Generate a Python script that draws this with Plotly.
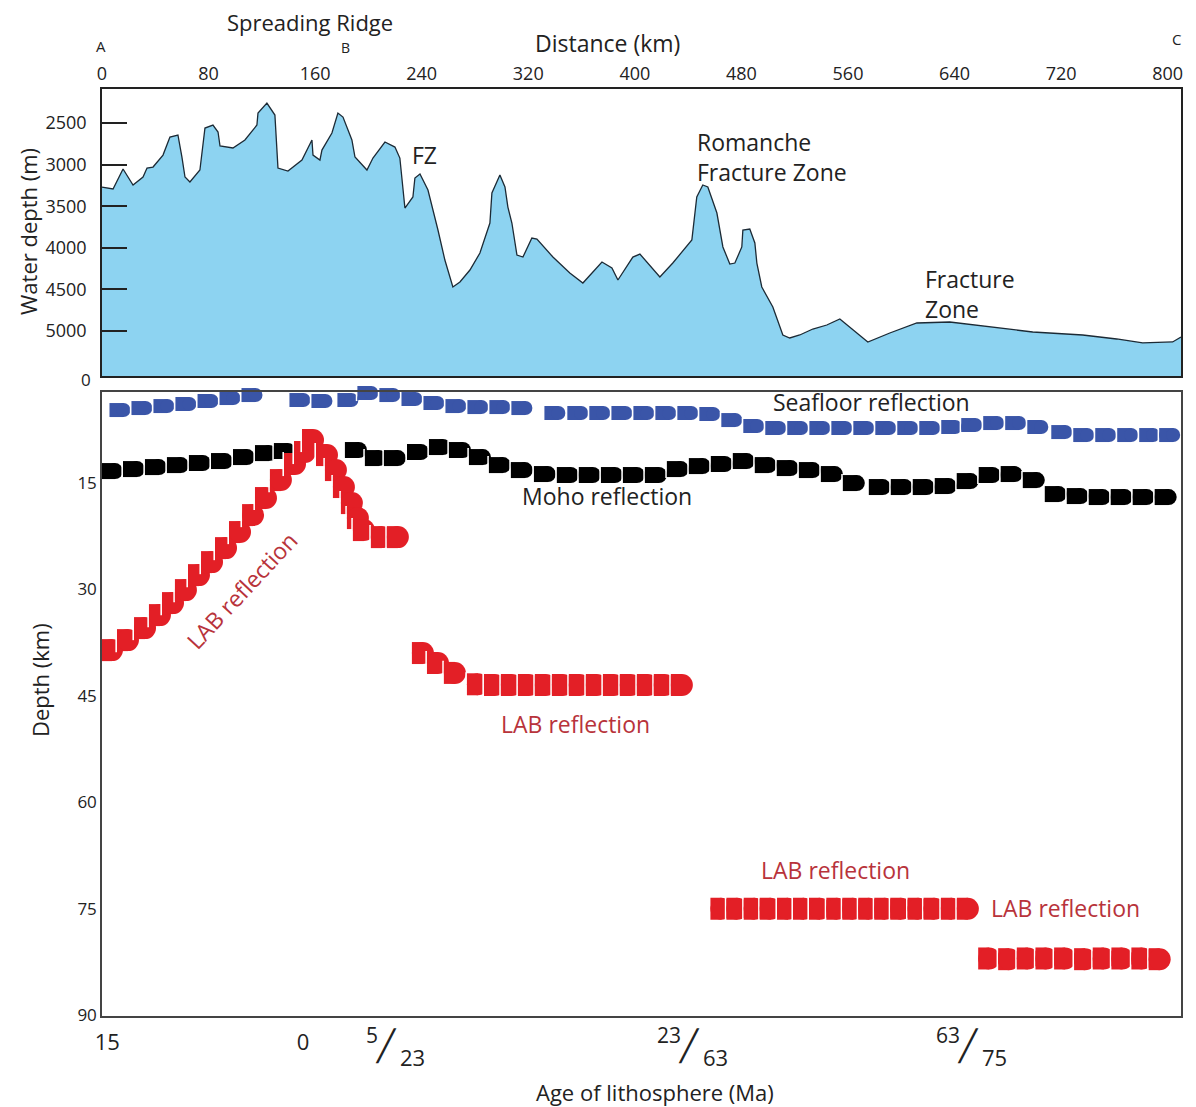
import plotly.graph_objects as go

# ---------------- data ----------------
# Bathymetric profile A-B-C (distance km, water depth m)
bathy_km = [0, 8.3, 15.8, 23.3, 30.8, 33.8, 38.3, 45.8, 51.0, 57.0, 60.0, 62.3, 66.0, 73.5, 77.3,
            83.3, 87.1, 88.6, 98.3, 107.3, 116.3, 117.1, 123.8, 129.8, 132.1, 139.6, 150.1, 157.6,
            158.4, 163.6, 165.1, 172.6, 177.1, 180.9, 187.6, 189.9, 198.9, 203.4, 212.4, 219.9,
            223.6, 227.4, 233.4, 234.9, 238.7, 244.7, 252.2, 257.4, 263.4, 268.7, 276.2, 283.7,
            291.2, 292.7, 298.7, 302.5, 304.7, 307.7, 311.5, 316.0, 322.7, 326.5, 338.5, 351.2,
            361.0, 375.3, 382.8, 387.3, 398.5, 403.8, 418.8, 428.5, 442.8, 446.5, 451.0, 454.8,
            461.6, 466.1, 471.3, 475.1, 480.3, 481.1, 486.3, 490.1, 491.6, 495.3, 503.6, 511.1,
            516.3, 523.8, 533.6, 544.1, 553.9, 574.9, 591.4, 611.7, 636.4, 661.2, 698.7, 736.2,
            761.7, 781.2, 803.7, 810.0]
bathy_m = [3270, 3293, 3053, 3245, 3149, 3041, 3029, 2885, 2668, 2644, 2909, 3149, 3209, 3065, 2560,
           2524, 2608, 2776, 2800, 2704, 2524, 2380, 2260, 2404, 3041, 3077, 2945, 2704,
           2885, 2945, 2825, 2620, 2380, 2428, 2704, 2909, 3065, 2921, 2728, 2789,
           2921, 3522, 3389, 3161, 3113, 3305, 3786, 4147, 4471, 4411, 4267, 4063,
           3702, 3341, 3125, 3269, 3510, 3702, 4087, 4111, 3882, 3894, 4111, 4303,
           4423, 4171, 4243, 4387, 4111, 4075, 4351, 4183, 3906, 3389, 3245, 3269,
           3582, 3990, 4195, 4183, 3990, 3786, 3774, 3942, 4183, 4471, 4712, 5048,
           5084, 5048, 4976, 4928, 4856, 5132, 5024, 4904, 4892, 4940, 5012, 5048,
           5096, 5144, 5132, 5072]

dist_ticks = [0, 80, 160, 240, 320, 400, 480, 560, 640, 720, 800]
water_depth_ticks = [2500, 3000, 3500, 4000, 4500, 5000]
depth_ticks = [15, 30, 45, 60, 75, 90]

# Age of lithosphere labels along the profile (km position, label)
age_tick_km = [4, 151, 213, 441, 650]
age_tick_labels = ["15", "0", "5/23", "23/63", "63/75"]

# Seafloor reflection (distance km, depth km)
seafloor_km = [13.5, 30.0, 46.5, 63.0, 79.6, 96.1, 112.6, 129.1, 148.6, 165.1, 184.6, 199.6, 216.1,
               232.7, 249.2, 265.7, 282.2, 298.7, 315.2, 340.0, 357.2, 373.7, 390.3, 406.8, 423.3,
               439.8, 456.3, 472.8, 489.3, 505.8, 522.3, 538.9, 555.4, 571.9, 588.4, 604.9, 621.4,
               637.9, 652.9, 669.4, 685.9, 702.5, 720.5, 737.0, 753.5, 770.0, 786.5, 801.5]
seafloor_depth = [4.79, 4.51, 4.23, 3.94, 3.52, 3.10, 2.68, 2.11, 3.38, 3.52, 3.38, 2.39, 2.68,
                  3.24, 3.80, 4.23, 4.37, 4.37, 4.51, 5.21, 5.21, 5.21, 5.21, 5.21, 5.21,
                  5.21, 5.35, 6.20, 7.04, 7.32, 7.32, 7.32, 7.32, 7.32, 7.32, 7.32, 7.32,
                  7.18, 6.90, 6.62, 6.62, 7.18, 7.89, 8.31, 8.31, 8.31, 8.31, 8.31]

# Moho reflection (distance km, depth km)
moho_km = [7.5, 24.0, 40.5, 57.0, 73.5, 90.1, 106.6, 123.1, 137.3,
           190.6, 205.6, 219.9, 237.2, 253.7, 268.7, 283.7, 298.7, 315.2, 332.5, 349.7, 366.2,
           382.8, 399.3, 415.8, 432.3, 448.8, 465.3, 481.8, 498.3, 514.8, 531.4, 547.9, 564.4,
           583.9, 600.4, 616.9, 633.4, 649.9, 666.4, 682.9, 699.5, 716.0, 732.5, 749.0, 765.5,
           782.0, 798.5]
moho_depth = [13.38, 13.10, 12.82, 12.54, 12.25, 11.97, 11.41, 10.85, 10.56,
              10.42, 11.55, 11.55, 10.70, 10.00, 10.42, 11.41, 12.54, 13.24, 13.80, 13.94, 13.94,
              13.94, 13.94, 13.94, 13.10, 12.68, 12.39, 11.97, 12.54, 12.96, 13.24, 13.80, 15.07,
              15.63, 15.63, 15.63, 15.49, 14.79, 13.94, 13.80, 14.65, 16.62, 16.90, 17.04, 17.04,
              17.04, 17.04]

# LAB reflections (distance km, depth km)
lab1_km = [7.5, 19.5, 32.3, 43.5, 53.3, 63.0, 72.8, 82.6, 93.1, 103.6, 113.4, 123.1, 134.3,
           144.9, 152.4, 158.4, 168.9, 175.6, 181.6, 187.6, 192.1, 196.6, 210.1, 222.1]
lab1_depth = [38.59, 37.18, 35.49, 33.66, 31.97, 30.14, 28.03, 26.20, 24.23, 21.97, 19.58, 17.18,
              14.65, 12.39, 10.70, 9.01, 11.13, 13.24, 15.63, 17.89, 20.00, 21.69, 22.68, 22.68]

lab2_km = [240.9, 252.2, 264.9, 282.2, 295.0, 307.7, 320.5, 333.2, 346.0, 358.7, 371.5, 384.3,
           397.0, 409.8, 422.5, 435.3]
lab2_depth = [39.0, 40.4, 41.8, 43.4, 43.5, 43.5, 43.5, 43.5, 43.5, 43.5, 43.5, 43.5,
              43.5, 43.5, 43.5, 43.5]

lab3_km = [465, 477, 490, 502, 515, 527, 539, 552, 564, 576, 588, 600, 613, 625, 638, 650]
lab3_depth = [75.0] * 16

lab4_km = [666, 681, 695, 709, 723, 738, 752, 766, 781, 794]
lab4_depth = [82.0, 82.1, 82.0, 82.0, 82.0, 82.1, 82.0, 82.0, 82.0, 82.1]

# ---------------- layout constants ----------------
PAGE_OFF = 8                      # default body margin of the html page
W, H = 1196 - PAGE_OFF, 1107 - PAGE_OFF
REF_L, REF_R, REF_T, REF_B = 102, 1181, 89, 1016   # plot area in page pixels
ML = REF_L - PAGE_OFF
MT = REF_T - PAGE_OFF
MR = 1196 - REF_R
MB = 1107 - REF_B
PW = REF_R - REF_L
PH = REF_B - REF_T
X_RANGE = [0, 810]
Y1_RANGE = [5541, 2091]
Y2_RANGE = [90.1, 2.25]
KM_PER_PX = (X_RANGE[1] - X_RANGE[0]) / PW

FONT = "Open Sans"
BLUE = "#3a55a8"
RED = "#e31f26"
LABTXT = "#b8333b"
FILL = "#8dd3f1"


def px(xp):
    return (xp - REF_L) / PW


def py(yp):
    return (REF_B - yp) / PH


fig = go.Figure()

# Bathymetry (filled to the bottom of the panel)
fig.add_trace(go.Scatter(x=[X_RANGE[0], X_RANGE[1]], y=[Y1_RANGE[0], Y1_RANGE[0]],
                         mode="lines", line=dict(width=0), hoverinfo="skip",
                         xaxis="x", yaxis="y", showlegend=False))
fig.add_trace(go.Scatter(x=bathy_km, y=bathy_m, mode="lines", fill="tonexty",
                         fillcolor=FILL, line=dict(color="#1c2a35", width=1.3),
                         xaxis="x", yaxis="y", showlegend=False))


def d_chain(xs, ys, color, h, e):
    """Chain of 'D' marks: a white separator, a flat-left block and a round right cap."""
    k = KM_PER_PX
    X, Y, SYM, SIZE, LW, COL = [], [], [], [], [], []
    for c, d in zip(xs, ys):
        # thin white separator along the flat left edge
        X.append(c + (-(h + e) / 2 - 0.8) * k); Y.append(d)
        SYM.append("line-ns"); SIZE.append(h / 1.4 + 1.5); LW.append(1.6); COL.append("white")
        # flat-left block
        X.append(c - h / 4 * k); Y.append(d)
        SYM.append("line-ns"); SIZE.append(h / 1.4); LW.append(h / 2 + e); COL.append(color)
        # round cap
        X.append(c + e / 2 * k); Y.append(d)
        SYM.append("circle"); SIZE.append(h); LW.append(0); COL.append(color)
    fig.add_trace(go.Scatter(x=X, y=Y, mode="markers",
                             marker=dict(symbol=SYM, size=SIZE, color=COL, opacity=1,
                                         line=dict(width=LW, color=COL)),
                             xaxis="x2", yaxis="y2", cliponaxis=False, showlegend=False,
                             hoverinfo="skip"))


d_chain(seafloor_km, seafloor_depth, BLUE, 14, 7)
d_chain(moho_km, moho_depth, "#000000", 16, 6)
d_chain(lab1_km, lab1_depth, RED, 22, 0)
d_chain(lab2_km, lab2_depth, RED, 22, 0)
d_chain(lab3_km, lab3_depth, RED, 22, 0)
d_chain(lab4_km, lab4_depth, RED, 22, 0)

top_dom = [(REF_B - 376) / PH, 1.0]
bot_dom = [0.0, (REF_B - 392) / PH]

fig.update_layout(
    width=W, height=H,
    margin=dict(l=ML, r=MR, t=MT, b=MB),
    paper_bgcolor="white", plot_bgcolor="white",
    font=dict(family=FONT, color="#222222"),
    xaxis=dict(domain=[0, 1], range=X_RANGE, side="top", anchor="y",
               tickvals=dist_ticks, ticks="", tickfont=dict(size=18),
               showgrid=False, zeroline=False, showline=True, mirror=True,
               linecolor="#222222", linewidth=1.5),
    yaxis=dict(domain=top_dom, range=Y1_RANGE, anchor="x",
               tickvals=water_depth_ticks, ticks="inside", ticklen=25, tickwidth=1.5,
               tickcolor="#222222", tickfont=dict(size=18), ticklabelstandoff=10,
               showgrid=False, zeroline=False, showline=True, mirror=True,
               linecolor="#222222", linewidth=1.5),
    xaxis2=dict(domain=[0, 1], range=X_RANGE, anchor="y2",
                tickvals=age_tick_km,
                ticktext=[t if "/" not in t else "" for t in age_tick_labels],
                ticks="", tickfont=dict(size=22), ticklabelstandoff=6,
                showgrid=False, zeroline=False, showline=True, mirror=True,
                linecolor="#444444", linewidth=1.5),
    yaxis2=dict(domain=bot_dom, range=Y2_RANGE, anchor="x2",
                tickvals=depth_ticks, ticks="", tickfont=dict(size=17),
                showgrid=False, zeroline=False, showline=True, mirror=True,
                linecolor="#444444", linewidth=1.5),
    showlegend=False,
)

ann = []


def label(text, xp, yp, size=23, color="#222222", xanchor="center", angle=0, align="center",
          yanchor="middle"):
    ann.append(dict(text=text, x=px(xp), y=py(yp), xref="paper", yref="paper",
                    xanchor=xanchor, yanchor=yanchor, showarrow=False, textangle=angle,
                    align=align, borderpad=0, font=dict(size=size, color=color, family=FONT)))


# Fraction-style age labels (older/younger side of a fracture zone)
for km, lbl in zip(age_tick_km, age_tick_labels):
    if "/" not in lbl:
        continue
    a, b = lbl.split("/")
    base = dict(x=km, xref="x2", y=py(1046), yref="paper", showarrow=False, yanchor="middle")
    ann.append(dict(base, text=a, xanchor="right", xshift=-6, yshift=11,
                    font=dict(size=21, family=FONT, color="#222222")))
    ann.append(dict(base, text="╱", xanchor="center", xshift=0, yshift=0,
                    font=dict(size=30, family="DejaVu Sans", color="#222222")))
    ann.append(dict(base, text=b, xanchor="left", xshift=12, yshift=-11,
                    font=dict(size=22, family=FONT, color="#222222")))

# Axis titles and header
label("Spreading Ridge", 310, 22, size=22)
label("Distance (km)", 607, 43)
label("A", 101, 46, size=15)
label("B", 345, 47, size=14)
label("C", 1176, 39, size=15)
label("Water depth (m)", 28, 232, size=22, angle=-90)
label("Depth (km)", 40, 680, size=22, angle=-90)
label("Age of lithosphere (Ma)", 655, 1092, size=22)
label("0", 86, 379, size=17)

# Feature labels, top panel
label("FZ", 425, 155)
label("Romanche<br>Fracture Zone", 696, 157, xanchor="left", align="left")
label("Fracture<br>Zone", 924, 294, xanchor="left", align="left")

# Reflection labels, lower panel
label("Seafloor reflection", 871, 402)
label("Moho reflection", 607, 496)
label("LAB reflection", 242, 590, color=LABTXT, angle=-47)
label("LAB reflection", 575, 724, color=LABTXT)
label("LAB reflection", 835, 870, color=LABTXT)
label("LAB reflection", 1065, 908, color=LABTXT)

fig.update_layout(annotations=ann)

fig.write_html("out.html")
